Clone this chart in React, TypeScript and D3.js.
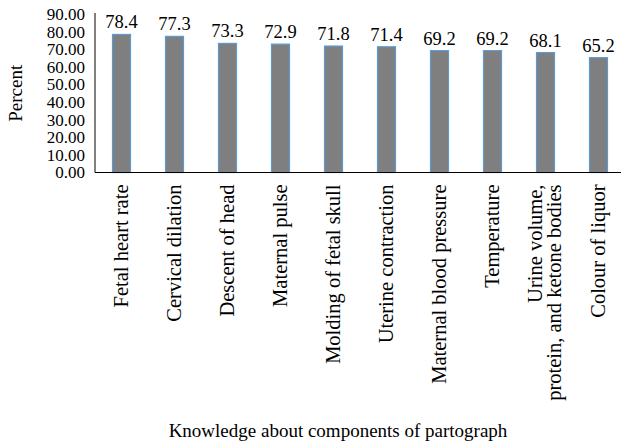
import React, { useEffect, useRef } from "react";
import * as d3 from "d3";

const categories = [
  "Fetal heart rate",
  "Cervical dilation",
  "Descent of head",
  "Maternal pulse",
  "Molding of fetal skull",
  "Uterine contraction",
  "Maternal blood pressure",
  "Temperature",
  "Urine volume,|protein, and ketone bodies",
  "Colour of liquor",
];
const values = [78.4, 77.3, 73.3, 72.9, 71.8, 71.4, 69.2, 69.2, 68.1, 65.2];
const yTicks = [0, 10, 20, 30, 40, 50, 60, 70, 80, 90];

const FONT = "'Liberation Serif', 'Times New Roman', serif";

const App = () => {
  const svgRef = useRef<SVGSVGElement>(null);

  useEffect(() => {
    const svg = d3.select(svgRef.current);
    svg.selectAll("*").remove();

    const width = 621;
    const height = 445;
    const left = 95;
    const right = 625;
    const top = 14;
    const bottom = 172.5;

    const x = d3.scaleBand().domain(categories).range([left, right]);
    const y = d3.scaleLinear().domain([0, 90]).range([bottom, top]);

    const barW = 18;

    // y tick labels
    svg
      .append("g")
      .selectAll("text")
      .data(yTicks)
      .join("text")
      .attr("x", left - 10)
      .attr("y", (d) => y(d))
      .attr("dy", "0.35em")
      .attr("text-anchor", "end")
      .style("font-family", FONT)
      .style("font-size", "17px")
      .text((d) => d.toFixed(2));

    // bars
    svg
      .append("g")
      .selectAll("rect")
      .data(values)
      .join("rect")
      .attr("x", (d, i) => x(categories[i])! + x.bandwidth() / 2 - barW / 2)
      .attr("y", (d) => y(d))
      .attr("width", barW)
      .attr("height", (d) => bottom - y(d))
      .attr("fill", "#7f7f7f")
      .attr("stroke", "#5b9bd5")
      .attr("stroke-width", 1.2);

    // value labels
    svg
      .append("g")
      .selectAll("text")
      .data(values)
      .join("text")
      .attr("x", (d, i) => x(categories[i])! + x.bandwidth() / 2)
      .attr("y", (d) => y(d) - 6)
      .attr("text-anchor", "middle")
      .style("font-family", FONT)
      .style("font-size", "18.5px")
      .text((d) => d.toFixed(1));

    // axes lines
    svg
      .append("line")
      .attr("x1", left)
      .attr("x2", left)
      .attr("y1", top - 1)
      .attr("y2", bottom)
      .attr("stroke", "#000")
      .attr("stroke-width", 1);
    svg
      .append("line")
      .attr("x1", left)
      .attr("x2", width)
      .attr("y1", bottom)
      .attr("y2", bottom)
      .attr("stroke", "#000")
      .attr("stroke-width", 1);

    // category labels
    const cat = svg
      .append("g")
      .selectAll("text")
      .data(categories)
      .join("text")
      .attr("transform", (d) => {
        const cx = x(d)! + x.bandwidth() / 2;
        return `translate(${cx},${bottom + 12}) rotate(-90)`;
      })
      .attr("text-anchor", "end")
      .style("font-family", FONT)
      .style("font-size", "20.5px");

    cat.each(function (d) {
      const lines = d.split("|");
      const t = d3.select(this);
      const lh = 19;
      const start = -((lines.length - 1) * lh) / 2 + 6;
      lines.forEach((ln, k) => {
        t.append("tspan")
          .attr("x", 0)
          .attr("y", start + k * lh)
          .text(ln);
      });
    });

    // axis titles
    svg
      .append("text")
      .attr("transform", `translate(22,${(top + bottom) / 2}) rotate(-90)`)
      .attr("text-anchor", "middle")
      .style("font-family", FONT)
      .style("font-size", "19px")
      .text("Percent");

    svg
      .append("text")
      .attr("x", 338)
      .attr("y", 437)
      .attr("text-anchor", "middle")
      .style("font-family", FONT)
      .style("font-size", "19px")
      .text("Knowledge about components of partograph");

    svg.attr("width", width).attr("height", height);
  }, []);

  return (
    <div style={{ position: "absolute", left: 0, top: 0 }}>
      <svg ref={svgRef} style={{ display: "block", background: "#fff" }}></svg>
    </div>
  );
};

export default App;
